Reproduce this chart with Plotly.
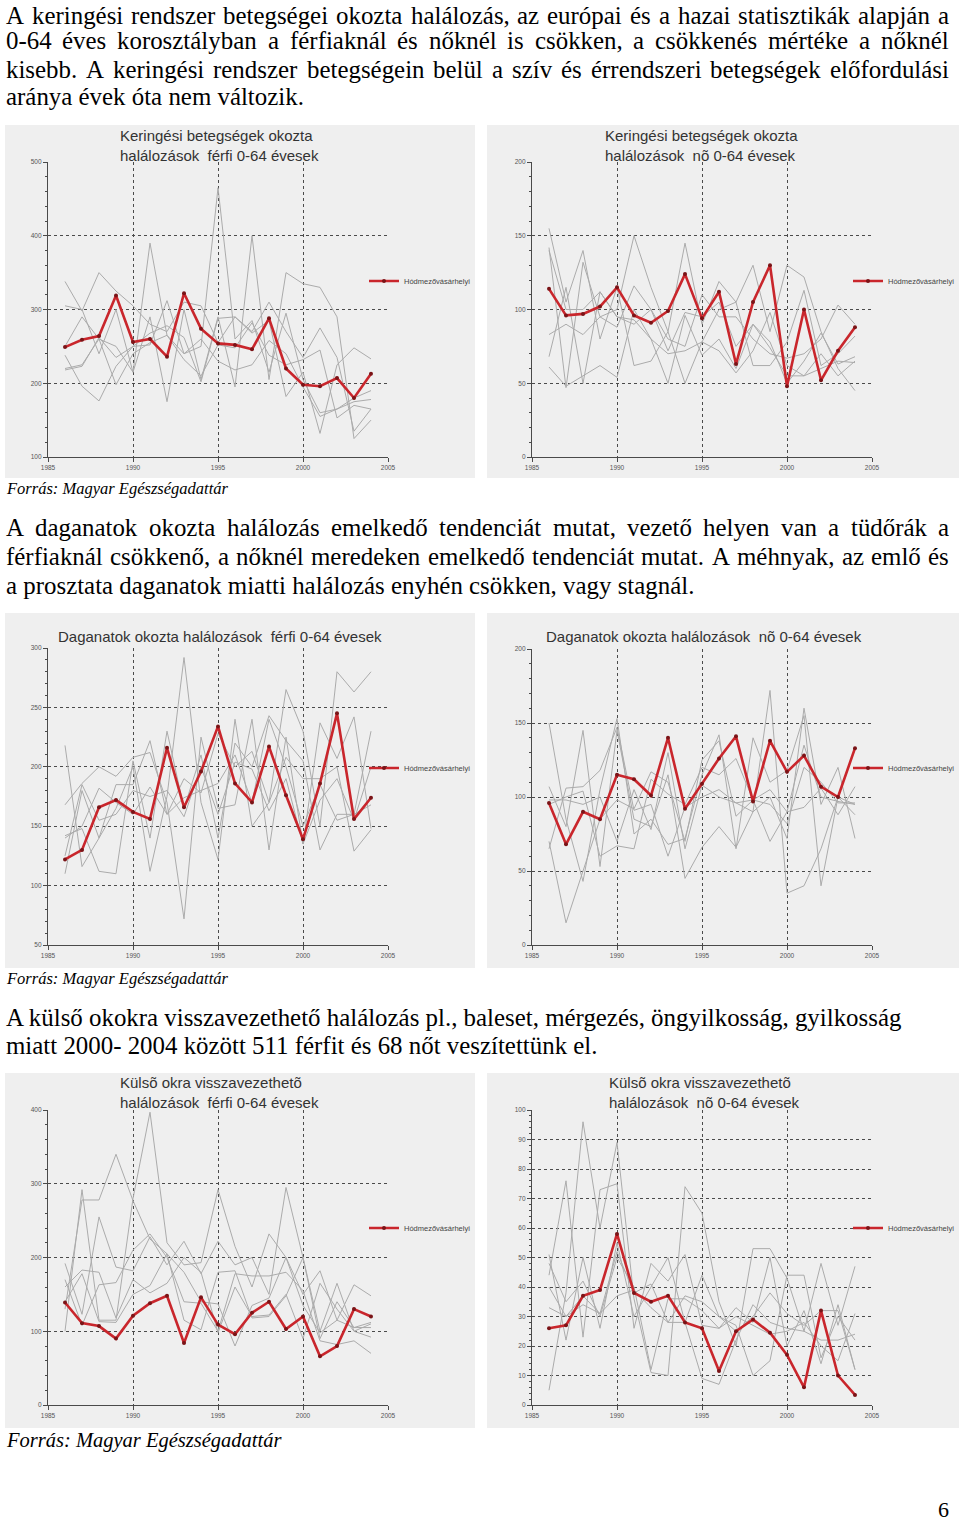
import unicodedata
import plotly.graph_objects as go

# ---------------- data ----------------
YEARS = list(range(1986, 2005))
X_TICKS = [1985, 1990, 1995, 2000, 2005]
LEGEND_NAME = "Hódmezővásárhelyi"

# Keringési - férfi
KER_F_RED = [249, 259, 264, 319, 256, 260, 236, 322, 274, 254, 252, 246, 288, 220, 198, 196, 207, 180, 213]
KER_F_GRAY = [
    [220, 225, 260, 250, 215, 390, 265, 240, 250, 465, 260, 285, 215, 295, 205, 160, 165, 180, 190],
    [305, 300, 240, 300, 215, 290, 175, 300, 205, 290, 195, 400, 205, 350, 335, 330, 290, 125, 150],
    [338, 298, 350, 325, 305, 280, 270, 310, 305, 255, 290, 270, 310, 270, 235, 275, 235, 135, 165],
    [238, 196, 176, 223, 250, 252, 312, 240, 260, 230, 218, 225, 258, 240, 195, 155, 165, 175, 178],
    [218, 223, 262, 235, 250, 268, 278, 262, 202, 288, 290, 268, 285, 182, 215, 132, 225, 248, 233],
    [250, 290, 260, 198, 240, 255, 265, 232, 210, 252, 248, 282, 238, 225, 232, 245, 153, 170, 165],
]

# Keringési - nő
KER_N_RED = [114, 96, 97, 102, 115, 96, 91, 99, 124, 94, 112, 63, 105, 130, 48, 100, 52, 72, 88]
KER_N_GRAY = [
    [155, 105, 140, 80, 115, 62, 65, 85, 145, 90, 119, 105, 130, 85, 130, 122, 85, 60, 45],
    [142, 47, 132, 95, 100, 150, 115, 85, 50, 78, 100, 105, 62, 62, 78, 113, 62, 70, 82],
    [83, 90, 83, 95, 88, 116, 100, 80, 75, 110, 95, 95, 80, 70, 67, 70, 80, 103, 90],
    [68, 115, 50, 112, 95, 93, 80, 50, 96, 69, 80, 60, 90, 74, 55, 55, 70, 55, 65],
    [61, 48, 55, 62, 54, 100, 80, 70, 72, 78, 72, 57, 72, 98, 62, 55, 60, 65, 64],
    [140, 100, 100, 112, 95, 90, 100, 72, 98, 95, 105, 75, 90, 78, 50, 65, 84, 63, 68],
]

# Daganatok - férfi
DAG_F_RED = [122, 130, 166, 172, 162, 156, 216, 166, 196, 234, 186, 170, 217, 176, 139, 186, 245, 156, 174]
DAG_F_GRAY = [
    [218, 116, 140, 165, 200, 112, 175, 292, 170, 122, 240, 150, 170, 265, 230, 150, 280, 263, 280],
    [168, 186, 200, 192, 208, 212, 170, 72, 225, 165, 168, 240, 130, 225, 135, 237, 207, 242, 148],
    [142, 148, 112, 110, 205, 140, 230, 165, 210, 140, 220, 200, 243, 222, 205, 130, 160, 160, 230],
    [110, 180, 140, 185, 185, 222, 160, 190, 178, 228, 200, 213, 170, 208, 190, 190, 200, 129, 147],
    [125, 185, 155, 160, 180, 175, 180, 158, 200, 160, 204, 198, 163, 190, 135, 172, 190, 155, 200],
    [140, 150, 182, 170, 160, 183, 160, 174, 180, 186, 210, 170, 240, 200, 150, 185, 155, 160, 168],
]

# Daganatok - nő
DAG_N_RED = [96, 68, 90, 85, 115, 112, 101, 140, 92, 109, 126, 141, 97, 138, 117, 128, 107, 100, 133]
DAG_N_GRAY = [
    [150, 85, 43, 105, 153, 75, 85, 68, 72, 115, 142, 65, 140, 110, 118, 155, 40, 100, 88],
    [107, 80, 145, 53, 145, 85, 80, 115, 45, 66, 80, 66, 90, 172, 35, 40, 65, 100, 95],
    [70, 15, 50, 85, 98, 92, 117, 110, 70, 125, 138, 87, 98, 70, 90, 135, 100, 97, 95],
    [65, 106, 107, 118, 147, 91, 95, 60, 93, 100, 105, 96, 90, 100, 72, 160, 95, 120, 72],
    [95, 100, 104, 60, 67, 65, 112, 102, 95, 120, 115, 126, 98, 105, 90, 93, 106, 88, 107],
    [98, 98, 95, 100, 70, 105, 78, 130, 65, 108, 100, 96, 98, 95, 82, 120, 110, 96, 96],
]

# Külső okok - férfi
KUL_F_RED = [139, 111, 107, 90, 121, 138, 148, 84, 146, 109, 96, 125, 140, 103, 120, 66, 80, 130, 120]
KUL_F_GRAY = [
    [100, 292, 115, 115, 280, 397, 220, 190, 193, 292, 215, 160, 232, 200, 135, 98, 115, 163, 148],
    [192, 123, 255, 187, 182, 228, 190, 222, 178, 222, 190, 200, 150, 295, 200, 100, 165, 100, 110],
    [130, 278, 278, 340, 277, 225, 205, 180, 140, 137, 80, 135, 145, 200, 150, 182, 115, 105, 105],
    [160, 183, 180, 118, 170, 152, 165, 200, 180, 98, 160, 120, 122, 150, 90, 165, 130, 100, 92],
    [170, 108, 163, 166, 210, 232, 200, 140, 138, 100, 178, 175, 175, 180, 155, 87, 82, 87, 70],
    [140, 178, 113, 112, 150, 162, 205, 115, 102, 180, 182, 118, 120, 148, 200, 90, 140, 105, 112],
]

# Külső okok - nő
KUL_N_RED = [26, 27, 37, 39, 58, 38, 35, 37, 28, 26, 11.5, 25, 29, 24.5, 17, 6, 32, 10, 3.4]
KUL_N_GRAY = [
    [44, 76, 23, 73, 75, 26, 48, 42, 51, 27, 26, 33, 28, 50, 20, 32, 14, 34, 12],
    [5, 38, 96, 60, 89, 36, 11, 10, 74, 65, 35, 20, 53, 53, 43, 25, 48, 27, 47],
    [51, 22, 50, 26, 55, 30, 40, 50, 28, 44, 30, 27, 10, 15, 44, 44, 16, 30, 22],
    [40, 30, 37, 31, 52, 38, 41, 28, 28, 9, 7, 22, 34, 28, 26, 25, 22, 22, 24],
    [33, 30, 34, 31, 37, 39, 33, 28, 37, 35, 30, 25, 30, 38, 31, 27, 32, 32, 12],
    [48, 35, 42, 30, 50, 40, 12, 36, 36, 32, 26, 30, 27, 24, 25, 28, 20, 15, 31],
]

TITLES = [
    "Keringési betegségek okozta<br>halálozások  férfi 0-64 évesek",
    "Keringési betegségek okozta<br>halálozások  nõ 0-64 évesek",
    "Daganatok okozta halálozások  férfi 0-64 évesek",
    "Daganatok okozta halálozások  nõ 0-64 évesek",
    "Külsõ okra visszavezethetõ<br>halálozások  férfi 0-64 évesek",
    "Külsõ okra visszavezethetõ<br>halálozások  nõ 0-64 évesek",
]

PARA1 = [
    "A keringési rendszer betegségei okozta halálozás, az európai és a hazai statisztikák alapján a",
    "0-64 éves korosztályban a férfiaknál és nőknél is csökken, a csökkenés mértéke a nőknél",
    "kisebb. A keringési rendszer betegségein belül a szív és érrendszeri betegségek előfordulási",
    "aránya évek óta nem változik.",
]
PARA2 = [
    "A daganatok okozta halálozás emelkedő tendenciát mutat, vezető helyen van a tüdőrák a",
    "férfiaknál csökkenő, a nőknél meredeken emelkedő tendenciát mutat. A méhnyak, az emlő és",
    "a prosztata daganatok miatti halálozás enyhén csökken, vagy stagnál.",
]
PARA3 = [
    "A külső okokra visszavezethető halálozás pl., baleset, mérgezés, öngyilkosság, gyilkosság",
    "miatt 2000- 2004 között 511 férfit és 68 nőt veszítettünk el.",
]
SOURCE = "Forrás: Magyar Egészségadattár"
PAGE_NO = "6"

# ---------------- layout helpers ----------------
PW, PH = 960, 1524

def px(x):
    return x / PW

def py(y):
    return 1 - y / PH

# Times New Roman advance widths (1/1000 em)
TW = {' ': 250, 'a': 444, 'b': 500, 'c': 444, 'd': 500, 'e': 444, 'f': 333, 'g': 500, 'h': 500,
      'i': 278, 'j': 278, 'k': 500, 'l': 278, 'm': 778, 'n': 500, 'o': 500, 'p': 500, 'q': 500,
      'r': 333, 's': 389, 't': 278, 'u': 500, 'v': 500, 'w': 722, 'x': 500, 'y': 500, 'z': 444,
      'A': 722, 'B': 667, 'C': 667, 'D': 722, 'E': 611, 'F': 556, 'G': 722, 'H': 722, 'I': 333,
      'J': 389, 'K': 722, 'L': 611, 'M': 889, 'N': 722, 'O': 722, 'P': 556, 'R': 667, 'S': 556,
      'T': 611, 'U': 722, 'V': 722, 'W': 944, '.': 250, ',': 250, '-': 333, ':': 278}

def text_width(s, size):
    tot = 0
    for c in s:
        base = unicodedata.normalize('NFD', c)[0]
        tot += TW.get(base, 500)
    return tot * size / 1000

annotations = []
TEXT_FONT = "Liberation Serif"
BODY = 24.9

def add_line(text, y, justify, size=BODY, x0=5, x1=948, yanchor='middle'):
    base = dict(y=py(y), xref='paper', yref='paper', xanchor='left', yanchor=yanchor,
                showarrow=False, borderpad=0,
                font=dict(family=TEXT_FONT, size=size, color='black'))
    if not justify:
        annotations.append(dict(base, text=text, x=px(x0)))
        return
    words = text.split(' ')
    widths = [text_width(w, size) for w in words]
    gap = (x1 - x0 - sum(widths)) / (len(words) - 1)
    x = x0
    for w, wd in zip(words, widths):
        annotations.append(dict(base, text=w, x=px(x)))
        x += wd + gap

def add_para(lines, ys, justify=True, first_top=False):
    for i, (ln, y) in enumerate(zip(lines, ys)):
        if first_top and i == 0:
            add_line(ln, y, justify and i < len(lines) - 1, yanchor='top')
        else:
            add_line(ln, y, justify and i < len(lines) - 1)

add_para(PARA1, [0.5, 40, 69, 97], first_top=True)
add_para(PARA2, [527, 556, 585])
add_para(PARA3, [1017, 1045], justify=False)
for y, s in [(488, 16.5), (978, 16.5), (1440, 20.5)]:
    annotations.append(dict(text="<i>" + SOURCE + "</i>", x=px(5), y=py(y), xref='paper', yref='paper',
                            xanchor='left', yanchor='middle', showarrow=False, borderpad=0,
                            font=dict(family=TEXT_FONT, size=s, color='black')))
annotations.append(dict(text=PAGE_NO, x=px(943), y=py(1523), xref='paper', yref='paper',
                        xanchor='center', yanchor='bottom', showarrow=False, borderpad=0,
                        font=dict(family=TEXT_FONT, size=22, color='black')))

# ---------------- charts ----------------
CHARTS = [
    dict(red=KER_F_RED, gray=KER_F_GRAY, box=(5, 125, 475, 478), plot=(48, 162, 388, 457),
         yr=(100, 500), dt=100, mdt=20, title=(119, 126), leg=(364, 281)),
    dict(red=KER_N_RED, gray=KER_N_GRAY, box=(487, 125, 959, 478), plot=(532, 162, 872, 457),
         yr=(0, 200), dt=50, mdt=10, title=(604, 126), leg=(848, 281)),
    dict(red=DAG_F_RED, gray=DAG_F_GRAY, box=(5, 613, 475, 968), plot=(48, 648, 388, 945),
         yr=(50, 300), dt=50, mdt=10, title=(57, 627), leg=(364, 768)),
    dict(red=DAG_N_RED, gray=DAG_N_GRAY, box=(487, 613, 959, 968), plot=(532, 649, 872, 945),
         yr=(0, 200), dt=50, mdt=10, title=(545, 627), leg=(848, 768)),
    dict(red=KUL_F_RED, gray=KUL_F_GRAY, box=(5, 1073, 475, 1428), plot=(48, 1110, 388, 1405),
         yr=(0, 400), dt=100, mdt=20, title=(119, 1073), leg=(364, 1228)),
    dict(red=KUL_N_RED, gray=KUL_N_GRAY, box=(487, 1073, 959, 1428), plot=(532, 1110, 872, 1405),
         yr=(0, 100), dt=10, mdt=2, title=(608, 1073), leg=(848, 1228)),
]

fig = go.Figure()
shapes = []
layout = dict(width=PW, height=PH, autosize=False,
              margin=dict(l=0, r=0, t=0, b=0, pad=0, autoexpand=False),
              paper_bgcolor='white', plot_bgcolor='#efefef', showlegend=True)

AX_COLOR = '#4a4a4a'
TICK_FONT = dict(family='Liberation Sans', size=6.5, color='#555555')

for i, c in enumerate(CHARTS, start=1):
    sfx = '' if i == 1 else str(i)
    xa, ya = 'x' + sfx, 'y' + sfx
    x0, y0, x1, y1 = c['plot']
    for g in c['gray']:
        fig.add_trace(go.Scatter(x=YEARS, y=g, mode='lines', xaxis=xa, yaxis=ya,
                                 line=dict(color='#ababab', width=1), showlegend=False,
                                 hoverinfo='skip'))
    legname = 'legend' if i == 1 else 'legend' + str(i)
    fig.add_trace(go.Scatter(x=YEARS, y=c['red'], mode='lines+markers', xaxis=xa, yaxis=ya,
                             name=LEGEND_NAME, legend=legname,
                             line=dict(color='#c9262c', width=2.6),
                             marker=dict(color='#7a1417', size=4)))
    layout['xaxis' + sfx] = dict(domain=[px(x0), px(x1)], anchor=ya, range=[1985, 2005],
                                 tickvals=X_TICKS, showgrid=True, gridcolor=AX_COLOR,
                                 griddash='dot', gridwidth=1, showline=True, linecolor=AX_COLOR,
                                 linewidth=1.2, ticks='outside', ticklen=4, tickcolor=AX_COLOR,
                                 tickfont=TICK_FONT, zeroline=False, fixedrange=True,
                                 automargin=False)
    layout['yaxis' + sfx] = dict(domain=[py(y1), py(y0)], anchor=xa, range=list(c['yr']),
                                 dtick=c['dt'], tick0=c['yr'][0], showgrid=True, gridcolor=AX_COLOR,
                                 griddash='dot', gridwidth=1, showline=True, linecolor=AX_COLOR,
                                 linewidth=1.2, ticks='outside', ticklen=4, tickcolor=AX_COLOR,
                                 tickfont=TICK_FONT, zeroline=False, fixedrange=True,
                                 automargin=False,
                                 minor=dict(dtick=c['mdt'], ticks='outside', ticklen=2,
                                            tickcolor=AX_COLOR, showgrid=False))
    layout[legname] = dict(x=px(c['leg'][0]), y=py(c['leg'][1]), xanchor='left', yanchor='middle',
                           bgcolor='rgba(0,0,0,0)', itemwidth=30, borderwidth=0,
                           font=dict(family='Liberation Sans', size=7.5, color='#444444'))
    bx0, by0, bx1, by1 = c['box']
    shapes.append(dict(type='rect', xref='paper', yref='paper', x0=px(bx0), x1=px(bx1),
                       y0=py(by1), y1=py(by0), fillcolor='#efefef', line=dict(width=0),
                       layer='below'))
    annotations.append(dict(text=TITLES[i - 1], x=px(c['title'][0]), y=py(c['title'][1]),
                            xref='paper', yref='paper', xanchor='left', yanchor='top',
                            align='left', showarrow=False, borderpad=0,
                            font=dict(family='Liberation Sans', size=15, color='#333333')))

layout['shapes'] = shapes
layout['annotations'] = annotations
fig.update_layout(**layout)
fig.write_html("out.html", config={'displayModeBar': False},
               post_script="document.body.style.margin='0';document.body.style.overflow='hidden';")
